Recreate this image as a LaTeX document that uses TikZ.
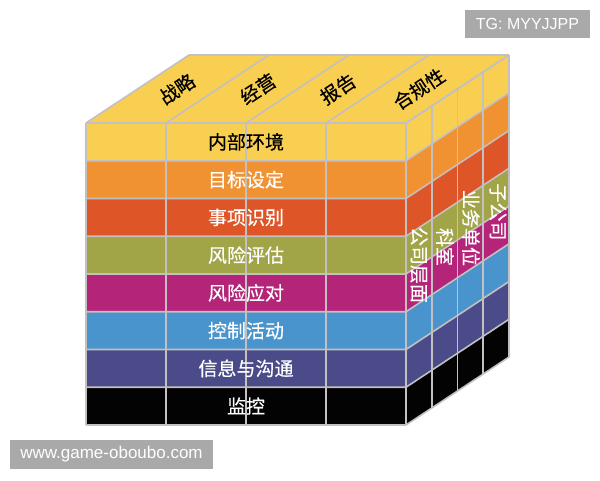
\documentclass[tikz,border=0pt]{standalone}
\usepackage{fontspec}
\setmainfont{Liberation Sans}
\newfontfamily\cjk{Noto Sans CJK SC}[FakeBold=0.4]
\definecolor{cosoY}{HTML}{F9CF52}
\definecolor{cosoO}{HTML}{F19232}
\definecolor{cosoR}{HTML}{DE5528}
\definecolor{cosoG}{HTML}{A2A547}
\definecolor{cosoM}{HTML}{B42579}
\definecolor{cosoB}{HTML}{4A94CD}
\definecolor{cosoI}{HTML}{4B4B89}
\definecolor{cosoK}{HTML}{030303}
\definecolor{gridc}{HTML}{C2C0C0}
\definecolor{wmgray}{HTML}{A9A9A9}
\begin{document}
\begin{tikzpicture}[x=1pt,y=-1pt,
  lbl/.style={font=\cjk\fontsize{19}{19}\selectfont, inner sep=0pt},
  gridline/.style={draw=gridc, line width=1.6pt, line join=round},
  wm/.style={fill=wmgray, text=white, inner sep=0pt}]
\useasboundingbox (0,0) rectangle (600,480);
\fill[white] (0,0) rectangle (600,480);
% top face
\fill[cosoY] (86,123) -- (406,123) -- (509,55) -- (189,55) -- cycle;
% rows on front and right faces
\foreach \c [count=\i from 0] in {cosoY,cosoO,cosoR,cosoG,cosoM,cosoB,cosoI,cosoK}{
  \pgfmathsetmacro{\yt}{123+37.75*\i}
  \pgfmathsetmacro{\yb}{123+37.75*(\i+1)}
  \fill[fill=\c] (86,\yt) rectangle (406,\yb);
  \fill[fill=\c] (406,\yt) -- (509,\yt-68) -- (509,\yb-68) -- (406,\yb) -- cycle;
}
% grid: front face
\foreach \i in {0,...,8}{
  \pgfmathsetmacro{\yy}{123+37.75*\i}
  \draw[gridline] (86,\yy) -- (406,\yy) -- (509,\yy-68);
}
\foreach \k in {0,...,4}{
  \pgfmathsetmacro{\xx}{86+80*\k}
  \draw[gridline] (\xx,123) -- (\xx,425);
  \draw[gridline] (\xx,123) -- (\xx+103,55);
}
\draw[gridline] (189,55) -- (509,55);
% grid: right face verticals
\foreach \j in {1,...,4}{
  \pgfmathsetmacro{\xx}{406+25.75*\j}
  \pgfmathsetmacro{\dy}{17*\j}
  \draw[gridline] (\xx,123-\dy) -- (\xx,425-\dy);
}
% front labels
\node[lbl, text=black] (f1) at (246,141.9) {内部环境};
\node[lbl, text=white] (f2) at (246,179.6) {目标设定};
\node[lbl, text=white] (f3) at (246,217.4) {事项识别};
\node[lbl, text=white] (f4) at (246,255.1) {风险评估};
\node[lbl, text=white] (f5) at (246,292.9) {风险应对};
\node[lbl, text=white] (f6) at (246,330.6) {控制活动};
\node[lbl, text=white] (f7) at (246,368.4) {信息与沟通};
\node[lbl, text=white] (f8) at (246,406.1) {监控};
% top labels
\node[lbl, text=black, rotate=33.4] (t1) at (177,89) {战略};
\node[lbl, text=black, rotate=33.4] (t2) at (258,89) {经营};
\node[lbl, text=black, rotate=33.4] (t3) at (338,89) {报告};
\node[lbl, text=black, rotate=33.4] (t4) at (419,89) {合规性};
% right labels
\node[lbl, text=white, rotate=-90] (r1) at (419,265) {公司层面};
\node[lbl, text=white, rotate=-90] (r2) at (445,247) {科室};
\node[lbl, text=white, rotate=-90] (r3) at (471,228) {业务单位};
\node[lbl, text=white, rotate=-90] (r4) at (498,212) {子公司};
% watermarks
\node[wm, minimum width=125pt, minimum height=28pt, font=\fontsize{16}{16}\selectfont] (tg) at (527.5,24) {TG: MYYJJPP};
\node[wm, minimum width=203pt, minimum height=29pt, font=\fontsize{17}{17}\selectfont] (www) at (111.5,454.5) {www.game-oboubo.com};
\end{tikzpicture}
\end{document}
